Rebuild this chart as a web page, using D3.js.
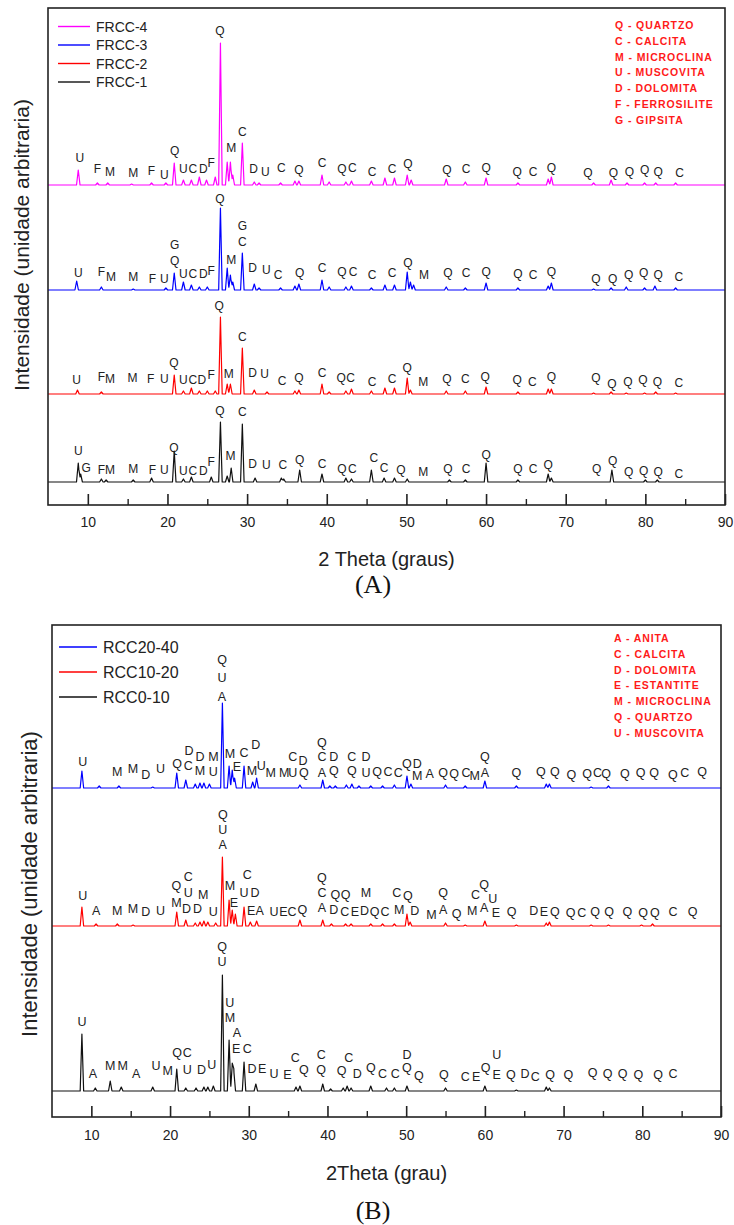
<!DOCTYPE html>
<html>
<head>
<meta charset="utf-8">
<script src="https://cdn.jsdelivr.net/npm/d3@7/dist/d3.min.js"></script>
<style>
  body { margin: 0; background: #fff; }
  text { font-family: Arial, "Liberation Sans", sans-serif; }
</style>
</head>
<body>
<svg id="chart" width="734" height="1225"></svg>
<script>
// ---- data -------------------------------------------------------------
var xTicks = [10, 20, 30, 40, 50, 60, 70, 80, 90];
var xMinor = [15, 25, 35, 45, 55, 65, 75, 85];

var seriesA = ["FRCC-4", "FRCC-3", "FRCC-2", "FRCC-1"];
var seriesB = ["RCC20-40", "RCC10-20", "RCC0-10"];

var phasesA = ["Q - QUARTZO", "C - CALCITA", "M - MICROCLINA", "U - MUSCOVITA",
  "D - DOLOMITA", "F - FERROSILITE", "G - GIPSITA"];
var phasesB = ["A - ANITA", "C - CALCITA", "D - DOLOMITA", "E - ESTANTITE",
  "M - MICROCLINA", "Q - QUARTZO", "U - MUSCOVITA"];

// vertical offset of each pattern (arbitrary intensity units)
var offsetsA = [320, 215, 111, 23];
var offsetsB = [329, 191, 26];

// peaks: [2theta, intensity above the pattern's own baseline]
var peaksA4 = [[8.8,15],[11.2,2],[12.5,2],[15.5,1],[18,2],[19.8,2],[20.85,22],[22.0,5],[23.0,5],[24.0,8],[24.9,5],[26.0,8],[26.65,142],[27.5,23],[27.9,23],[28.2,10],[29.4,42],[30.9,3],[31.5,2],[34.2,2],[36.0,4],[36.5,4],[39.4,10],[40.3,3],[42.4,3],[43.1,4],[45.6,4],[47.3,7],[48.5,7],[50.1,10],[50.6,5],[55.0,6],[57.4,3],[60.0,7],[64.0,2],[67.8,6],[68.2,8],[73.5,2],[75.7,5],[77.7,2],[79.9,2],[81.3,2],[83.8,2]];
var peaksA3 = [[8.6,9],[11.7,3],[15.7,1],[19.8,2],[20.85,17],[22.0,8],[23.0,5],[24.0,3],[25.0,3],[26.65,82],[27.5,22],[27.9,15],[28.2,8],[29.4,37],[30.9,6],[31.5,2],[34.2,2],[36.0,4],[36.5,6],[39.4,10],[40.3,3],[42.4,3],[43.1,4],[45.6,2],[47.3,5],[48.5,5],[50.1,18],[50.5,8],[50.9,5],[55.0,3],[57.4,2],[60.0,7],[64.0,2],[67.8,4],[68.2,7],[73.5,1],[75.7,2],[77.6,3],[79.9,2],[81.2,4],[83.8,2]];
var peaksA2 = [[8.7,4],[11.7,2],[20.85,19],[22.0,3],[23.0,6],[24.0,3],[25.0,3],[26.0,3],[26.65,77],[27.5,10],[27.9,10],[29.4,46],[30.9,4],[32.5,2],[36.0,3],[36.5,4],[39.4,10],[40.3,2],[42.4,3],[43.1,5],[45.6,3],[47.3,6],[48.5,6],[50.1,16],[50.5,4],[55.0,3],[57.4,3],[60.0,7],[64.0,2],[67.8,5],[68.2,5],[73.5,1],[75.7,2],[77.6,1],[79.9,1],[81.3,2],[83.8,1]];
var peaksA1 = [[8.8,19],[9.1,8],[11.7,3],[12.3,2],[15.7,2],[18.0,4],[20.85,31],[22.0,3],[23.0,5],[25.5,5],[26.65,60],[27.5,6],[28.0,14],[29.4,58],[31.0,4],[34.3,4],[34.6,3],[36.6,12],[39.4,8],[42.4,4],[43.1,3],[45.6,12],[47.2,4],[48.5,4],[50.1,3],[55.4,2],[57.4,2],[60.0,19],[64.0,2],[67.8,8],[68.2,4],[75.8,12],[80.0,2],[81.5,2]];

var peaksB3 = [[8.8,17],[11.0,2],[13.5,2],[17.8,1],[20.85,15],[22.0,8],[23.2,4],[23.8,5],[24.3,5],[25.0,4],[26.65,85],[27.5,22],[27.9,18],[28.2,10],[29.4,22],[30.5,6],[31.0,10],[36.5,3],[39.4,8],[40.3,2],[41.0,2],[42.4,3],[43.1,4],[44.0,2],[45.5,2],[47.0,2],[48.5,3],[50.1,12],[50.6,4],[55.0,3],[57.5,2],[60.0,7],[64.0,2],[67.8,4],[68.2,4],[73.5,1],[75.7,2]];
var peaksB2 = [[8.8,19],[10.6,2],[13.3,2],[15.3,1],[20.85,14],[22.0,6],[23.2,3],[23.8,4],[24.3,5],[24.8,4],[25.8,3],[26.65,69],[27.5,26],[27.9,16],[28.3,12],[29.4,19],[30.2,4],[31.0,5],[36.5,6],[39.4,6],[40.5,2],[42.3,2],[43.0,2],[45.5,2],[47.0,2],[48.5,2],[50.1,12],[50.5,4],[55.0,3],[57.5,1],[60.0,5],[64.0,1],[67.8,3],[68.2,4],[73.5,1],[75.7,1],[79.9,1],[81.3,2]];
var peaksB1 = [[8.8,57],[10.5,3],[12.4,10],[13.8,4],[17.8,4],[20.85,22],[22.0,3],[23.3,3],[24.3,4],[24.8,4],[25.5,5],[26.65,116],[27.5,51],[27.9,26],[28.1,20],[29.4,29],[30.9,7],[36.0,4],[36.5,5],[39.4,7],[40.4,2],[42.0,3],[42.5,5],[43.0,3],[45.5,5],[47.5,3],[48.5,3],[50.1,5],[55.0,3],[60.0,5],[64.0,1],[67.8,4],[68.2,3]];

// phase labels: [2theta, height above the pattern's baseline, letter]
var labelsA4 = [[9.0,27,"U"],[11.2,16,"F"],[12.8,13,"M"],[15.7,12,"M"],[18.0,14,"F"],[19.6,10,"U"],[20.9,34,"Q"],[22.0,16,"U"],[23.2,16,"C"],[24.5,16,"D"],[25.5,22,"F"],[26.6,154,"Q"],[28.0,37,"M"],[29.4,53,"C"],[30.8,16,"D"],[32.3,13,"U"],[34.3,17,"C"],[36.5,15,"Q"],[39.4,22,"C"],[41.9,16,"Q"],[43.2,17,"C"],[45.7,13,"C"],[48.2,16,"C"],[50.2,21,"Q"],[55.1,15,"Q"],[57.5,16,"C"],[60.0,17,"Q"],[63.9,13,"Q"],[65.9,13,"C"],[68.2,17,"Q"],[72.8,12,"Q"],[76.0,12,"Q"],[78.0,13,"Q"],[79.9,15,"Q"],[81.6,13,"Q"],[84.3,12,"C"]];
var labelsA3 = [[8.8,17,"U"],[11.7,18,"F"],[12.9,13,"M"],[15.7,13,"M"],[18.1,11,"F"],[19.6,11,"U"],[20.9,29,"Q"],[20.9,45,"G"],[22.0,16,"U"],[23.2,16,"C"],[24.5,16,"D"],[25.5,19,"F"],[26.6,91,"Q"],[28.0,30,"M"],[29.4,48,"C"],[29.4,64,"G"],[30.7,22,"D"],[32.4,20,"U"],[33.9,15,"C"],[36.6,17,"Q"],[39.4,22,"C"],[41.9,18,"Q"],[43.3,18,"C"],[45.7,15,"C"],[48.2,17,"C"],[50.2,27,"Q"],[52.2,15,"M"],[55.2,17,"Q"],[57.5,17,"C"],[60.0,18,"Q"],[64.0,16,"Q"],[65.9,15,"C"],[68.2,18,"Q"],[73.8,11,"Q"],[75.9,11,"Q"],[77.9,15,"Q"],[79.8,17,"Q"],[81.6,15,"Q"],[84.2,13,"C"]];
var labelsA2 = [[8.6,14,"U"],[11.7,17,"F"],[12.8,15,"M"],[15.6,16,"M"],[17.9,15,"F"],[19.6,15,"U"],[20.8,31,"Q"],[22.0,14,"U"],[23.2,14,"C"],[24.3,14,"D"],[25.5,19,"F"],[26.5,88,"Q"],[27.7,20,"M"],[29.4,57,"C"],[30.7,21,"D"],[32.2,20,"U"],[34.4,13,"C"],[36.5,16,"Q"],[39.4,21,"C"],[41.8,16,"Q"],[43.0,16,"C"],[45.7,12,"C"],[48.2,15,"C"],[50.1,26,"Q"],[52.1,12,"M"],[55.1,15,"Q"],[57.4,15,"C"],[59.9,17,"Q"],[63.9,14,"Q"],[65.8,12,"C"],[68.2,17,"Q"],[73.8,16,"Q"],[75.8,10,"Q"],[77.8,12,"Q"],[79.7,14,"Q"],[81.5,12,"Q"],[84.2,11,"C"]];
var labelsA1 = [[8.8,31,"U"],[9.8,14,"G"],[11.7,12,"F"],[12.8,12,"M"],[15.7,13,"M"],[18.1,12,"F"],[19.6,12,"U"],[20.8,34,"Q"],[22.0,11,"U"],[23.2,11,"C"],[24.5,11,"D"],[25.5,20,"F"],[26.6,71,"Q"],[27.9,26,"M"],[29.4,70,"C"],[30.7,18,"D"],[32.4,17,"U"],[34.5,17,"C"],[36.6,22,"Q"],[39.4,18,"C"],[41.9,13,"Q"],[43.2,13,"C"],[45.9,24,"C"],[47.2,14,"C"],[49.3,12,"Q"],[52.1,10,"M"],[55.2,13,"Q"],[57.5,13,"C"],[60.0,27,"Q"],[64.0,13,"Q"],[65.9,13,"C"],[67.8,17,"Q"],[73.9,13,"Q"],[75.9,21,"Q"],[77.9,10,"Q"],[79.8,11,"Q"],[81.6,10,"Q"],[84.2,8,"C"]];

var labelsB3 = [[8.9,26,"U"],[13.3,16,"M"],[15.3,19,"M"],[16.9,13,"D"],[18.8,19,"U"],[20.9,24,"Q"],[22.3,22,"C"],[22.4,37,"D"],[23.8,31,"D"],[23.8,17,"M"],[25.5,31,"M"],[25.5,16,"U"],[26.6,128,"Q"],[26.6,110,"U"],[26.6,91,"A"],[27.6,34,"M"],[28.5,21,"E"],[29.4,35,"C"],[30.9,43,"D"],[30.4,17,"M"],[31.6,22,"U"],[32.8,15,"M"],[34.5,15,"M"],[35.6,15,"U"],[35.6,31,"C"],[36.9,27,"D"],[37.0,15,"Q"],[39.3,45,"Q"],[39.3,31,"C"],[39.3,15,"A"],[40.8,31,"D"],[40.8,17,"Q"],[43.1,31,"C"],[43.1,17,"Q"],[44.9,31,"D"],[44.9,15,"U"],[46.3,16,"Q"],[47.7,16,"C"],[49.0,15,"C"],[50.1,24,"Q"],[51.4,24,"D"],[51.4,12,"M"],[53.0,14,"A"],[54.7,15,"Q"],[56.1,14,"Q"],[57.6,15,"C"],[58.7,12,"M"],[60.0,15,"A"],[60.0,31,"Q"],[64.0,15,"Q"],[67.1,16,"Q"],[68.9,16,"Q"],[71.0,13,"Q"],[73.0,14,"Q"],[74.3,15,"C"],[75.4,14,"Q"],[77.8,14,"Q"],[79.8,15,"Q"],[81.5,15,"Q"],[83.9,13,"Q"],[85.4,15,"C"],[87.6,16,"Q"]];
var labelsB2 = [[8.9,30,"U"],[10.6,15,"A"],[13.3,15,"M"],[15.3,17,"M"],[16.9,14,"D"],[18.8,15,"U"],[20.8,40,"Q"],[20.8,23,"M"],[22.3,49,"C"],[22.3,33,"U"],[22.1,17,"D"],[23.5,17,"D"],[24.2,31,"M"],[25.5,14,"U"],[26.7,111,"Q"],[26.7,96,"U"],[26.7,81,"A"],[27.6,40,"M"],[28.1,23,"E"],[29.8,51,"C"],[29.4,33,"U"],[30.8,33,"D"],[30.3,15,"E"],[31.4,15,"A"],[33.2,14,"U"],[34.4,14,"E"],[35.5,14,"C"],[36.8,16,"Q"],[39.3,48,"Q"],[39.3,33,"C"],[39.3,18,"A"],[41.0,31,"Q"],[42.3,31,"Q"],[40.8,16,"D"],[42.2,14,"C"],[43.5,14,"E"],[44.7,15,"D"],[44.9,33,"M"],[46.0,14,"Q"],[47.3,14,"C"],[48.8,33,"C"],[50.2,30,"Q"],[49.1,16,"M"],[51.1,15,"D"],[53.2,11,"M"],[54.7,33,"Q"],[54.7,16,"A"],[56.4,12,"Q"],[58.8,31,"C"],[58.4,15,"M"],[59.9,41,"Q"],[59.9,18,"A"],[61.0,27,"U"],[61.4,13,"E"],[63.4,14,"Q"],[66.2,15,"D"],[67.5,14,"E"],[68.9,14,"Q"],[70.9,13,"Q"],[72.3,13,"C"],[74.0,14,"Q"],[75.8,14,"Q"],[78.1,14,"Q"],[80.1,13,"Q"],[81.6,13,"Q"],[83.9,14,"C"],[86.4,14,"Q"]];
var labelsB1 = [[8.8,69,"U"],[10.2,17,"A"],[12.4,25,"M"],[14.0,25,"M"],[15.7,17,"A"],[18.2,25,"U"],[19.7,20,"M"],[20.9,38,"Q"],[22.2,38,"C"],[22.2,21,"U"],[24.0,21,"D"],[25.3,26,"U"],[26.6,144,"Q"],[26.6,129,"U"],[27.6,88,"U"],[27.6,73,"M"],[28.5,58,"A"],[28.4,42,"E"],[29.8,42,"C"],[30.4,22,"D"],[31.7,22,"E"],[33.2,17,"U"],[34.9,16,"E"],[35.9,33,"C"],[37.0,21,"Q"],[39.2,36,"C"],[39.2,21,"Q"],[41.8,20,"Q"],[42.7,33,"C"],[43.8,17,"D"],[45.5,23,"Q"],[47.0,17,"C"],[48.6,17,"C"],[50.1,23,"Q"],[50.1,36,"D"],[51.6,15,"Q"],[54.8,16,"Q"],[57.5,14,"C"],[58.9,14,"E"],[60.1,23,"Q"],[61.5,36,"U"],[61.5,16,"E"],[63.3,16,"Q"],[65.1,17,"D"],[66.4,14,"C"],[68.3,16,"Q"],[70.6,16,"Q"],[73.7,18,"Q"],[75.6,17,"Q"],[77.5,17,"Q"],[79.5,16,"Q"],[82.0,16,"Q"],[83.9,17,"C"]];

// ---- drawing ----------------------------------------------------------
var svg = d3.select("#chart");
var labelColor = "#222";

// piecewise-linear pattern through the read peak tops
function pattern(peaks, hw) {
  var xs = [5, 90];
  peaks.forEach(function (p) { xs.push(p[0] - hw, p[0], p[0] + hw); });
  xs.sort(d3.ascending);
  return xs.map(function (t) {
    var s = 0;
    peaks.forEach(function (p) {
      var d = Math.abs(t - p[0]);
      if (d < hw) s += p[1] * (1 - d / hw);
    });
    return [t, s];
  });
}

function drawPanel(p) {
  var width = p.right - p.left,
      height = p.bottom - p.top;
  var g = svg.append("g")
      .attr("transform", "translate(" + p.left + "," + p.top + ")");

  var x = d3.scaleLinear().domain([5, 90]).range([0, width]);
  var y = d3.scaleLinear().domain([0, height]).range([height, 0]);

  // patterns
  p.peaks.forEach(function (pk, i) {
    var off = p.offsets[i];
    var line = d3.line()
        .x(function (d) { return x(d[0]); })
        .y(function (d) { return y(off + d[1]); });
    g.append("path")
        .datum(pattern(pk, 0.22))
        .attr("fill", "none")
        .attr("stroke", p.colors[i])
        .attr("stroke-width", 1.2)
        .attr("stroke-linejoin", "round")
        .attr("d", line);
  });

  // phase letters
  p.labels.forEach(function (lb, i) {
    var off = p.offsets[i];
    g.selectAll(null)
        .data(lb)
        .enter()
        .append("text")
        .attr("x", function (d) { return x(d[0]); })
        .attr("y", function (d) { return y(off + d[1]); })
        .attr("text-anchor", "middle")
        .attr("dominant-baseline", "central")
        .style("font-size", p.labelSize + "px")
        .attr("fill", labelColor)
        .text(function (d) { return d[2]; });
  });

  // frame
  g.append("rect")
      .attr("width", width).attr("height", height)
      .attr("fill", "none").attr("stroke", "#222").attr("stroke-width", 1.6);

  // x axis, ticks pointing inward
  g.append("g")
      .attr("transform", "translate(0," + height + ")")
      .call(d3.axisBottom(x).tickValues(xTicks).tickSize(-11).tickPadding(p.tickPad).tickFormat(d3.format("d")))
      .call(function (s) {
        s.select(".domain").remove();
        s.selectAll("line").attr("stroke", "#222").attr("stroke-width", 1.6);
        s.selectAll("text").attr("fill", "#222").style("font-size", "14px")
            .style("font-family", "Arial, 'Liberation Sans', sans-serif");
      });
  g.append("g")
      .attr("transform", "translate(0," + height + ")")
      .call(d3.axisBottom(x).tickValues(xMinor).tickSize(-6).tickFormat(""))
      .call(function (s) {
        s.select(".domain").remove();
        s.selectAll("line").attr("stroke", "#222").attr("stroke-width", 1.4);
      });

  // axis titles
  svg.append("text")
      .attr("x", p.left + width / 2).attr("y", p.xTitleY)
      .attr("text-anchor", "middle").attr("dominant-baseline", "central")
      .style("font-size", "20px").attr("fill", "#222")
      .text(p.xTitle);
  svg.append("text")
      .attr("transform", "translate(" + p.yTitleX + "," + p.yTitleY + ") rotate(-90)")
      .attr("text-anchor", "middle").attr("dominant-baseline", "central")
      .style("font-size", p.yTitleSize + "px").attr("fill", "#222")
      .text("Intensidade (unidade arbitraria)");
  svg.append("text")
      .attr("x", 373).attr("y", p.tagY)
      .attr("text-anchor", "middle").attr("dominant-baseline", "central")
      .style("font-family", "'Liberation Serif', 'Times New Roman', serif")
      .style("font-size", "26px").attr("fill", "#111")
      .text(p.tag);

  // series legend
  var leg = g.append("g").attr("transform", "translate(" + p.legX + "," + p.legY + ")");
  p.names.forEach(function (n, i) {
    leg.append("line")
        .attr("x1", 0).attr("x2", p.legLine)
        .attr("y1", i * p.legStep).attr("y2", i * p.legStep)
        .attr("stroke", p.colors[i]).attr("stroke-width", 1.4);
    leg.append("text")
        .attr("x", p.legLine + 6).attr("y", i * p.legStep)
        .attr("dominant-baseline", "central")
        .style("font-size", p.legSize + "px").attr("fill", "#222")
        .text(n);
  });

  // phase key
  var key = g.append("g").attr("transform", "translate(" + p.keyX + "," + p.keyY + ")");
  p.phases.forEach(function (t, i) {
    key.append("text")
        .attr("x", 0).attr("y", i * 15.75)
        .attr("dominant-baseline", "central")
        .style("font-size", "10.5px").style("font-weight", "bold")
        .style("letter-spacing", "0.9px")
        .attr("fill", "#ff1a1a")
        .text(t);
  });
}

drawPanel({
  left: 48, top: 8, right: 725, bottom: 505,
  peaks: [peaksA4, peaksA3, peaksA2, peaksA1],
  labels: [labelsA4, labelsA3, labelsA2, labelsA1],
  offsets: offsetsA,
  colors: ["#ff00ff", "#0000ff", "#ff0000", "#111111"],
  names: seriesA, phases: phasesA,
  labelSize: 12, tickPad: 12,
  xTitle: "2 Theta (graus)", xTitleY: 559,
  yTitleX: 21, yTitleY: 245, yTitleSize: 21,
  tag: "(A)", tagY: 584,
  legX: 10, legY: 18.5, legLine: 32, legStep: 18.5, legSize: 14,
  keyX: 567, keyY: 17
});

drawPanel({
  left: 52, top: 625, right: 721, bottom: 1117,
  peaks: [peaksB3, peaksB2, peaksB1],
  labels: [labelsB3, labelsB2, labelsB1],
  offsets: offsetsB,
  colors: ["#0000ff", "#ff0000", "#111111"],
  names: seriesB, phases: phasesB,
  labelSize: 12.5, tickPad: 13,
  xTitle: "2Theta (grau)", xTitleY: 1173,
  yTitleX: 29, yTitleY: 884, yTitleSize: 22,
  tag: "(B)", tagY: 1210,
  legX: 7, legY: 22, legLine: 38, legStep: 25, legSize: 16,
  keyX: 562, keyY: 13
});
</script>
</body>
</html>
